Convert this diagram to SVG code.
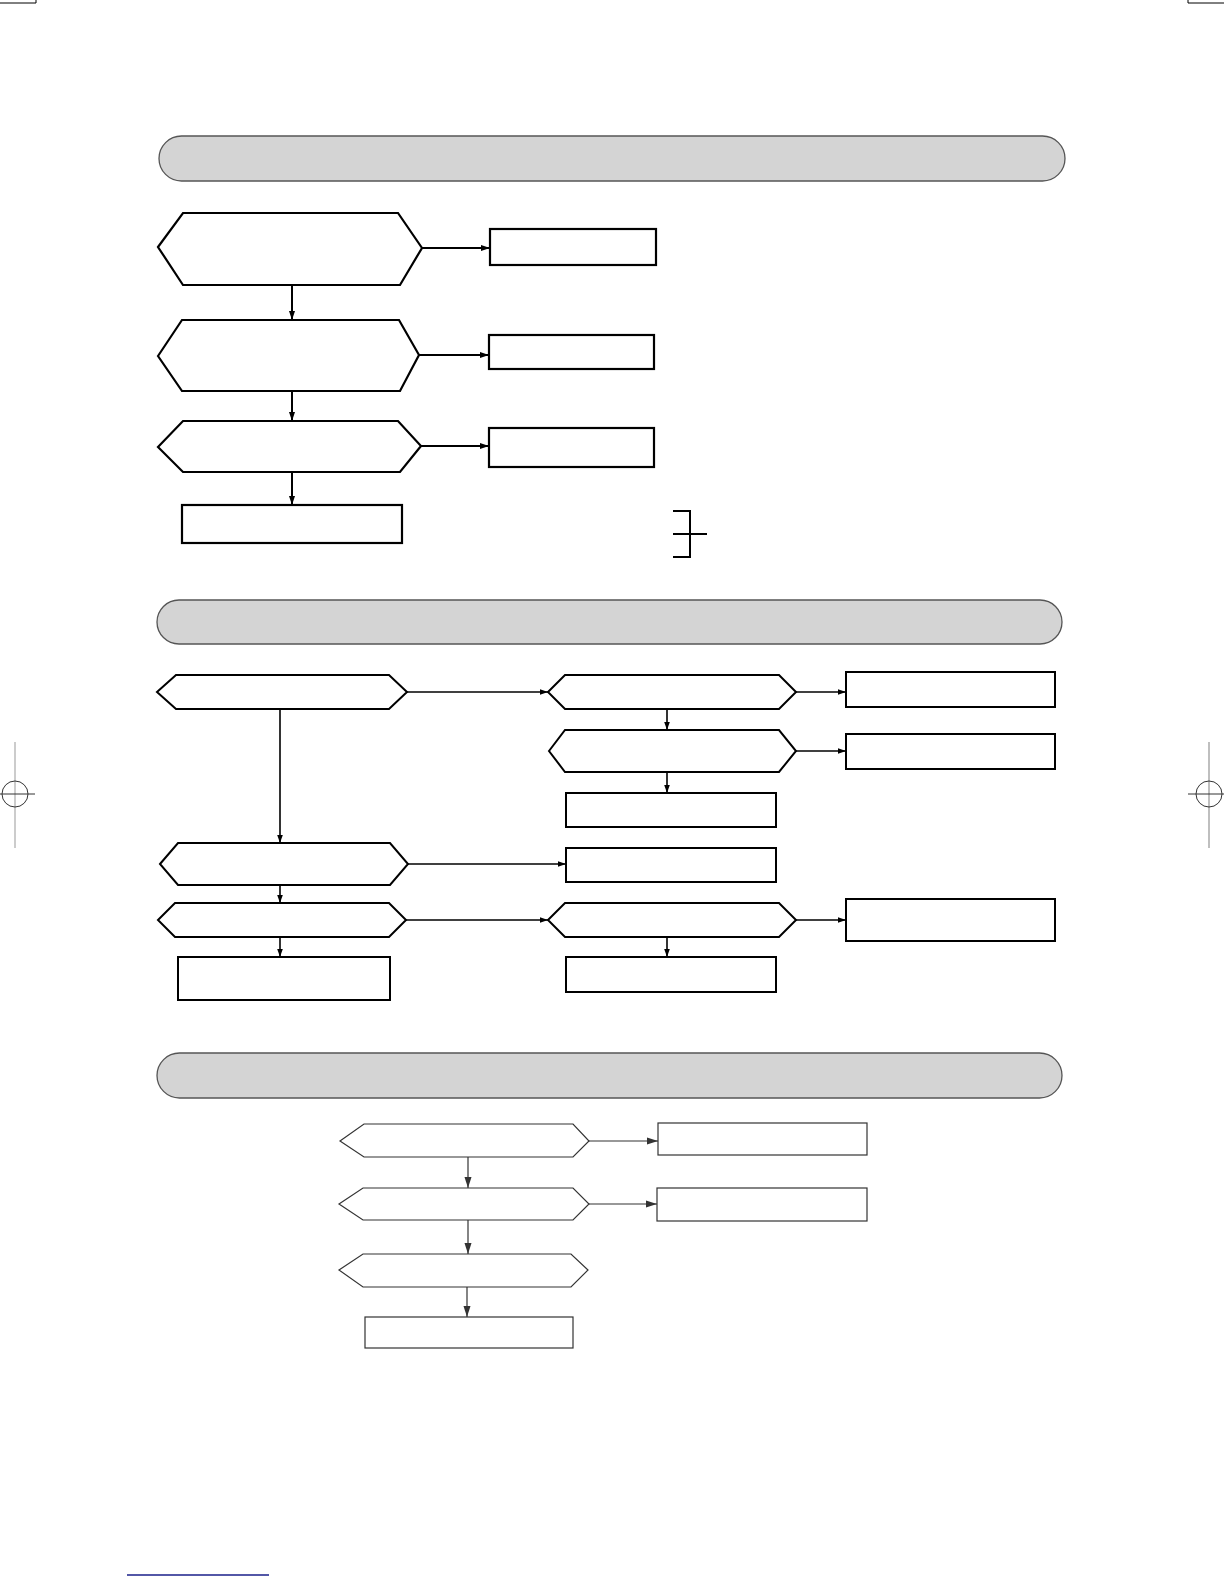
<svg xmlns="http://www.w3.org/2000/svg" width="1224" height="1584" viewBox="0 0 1224 1584">
<style>
.hdr{fill:#d4d4d4;stroke:#555;stroke-width:1.3}
.s1{fill:#fff;stroke:#000;stroke-width:2.2}
.s2{fill:#fff;stroke:#000;stroke-width:2}
.s3{fill:#fff;stroke:#333;stroke-width:1.2}
.c1{fill:none;stroke:#000;stroke-width:2}
.c2{fill:none;stroke:#000;stroke-width:1.6}
.c3{fill:none;stroke:#333;stroke-width:1.2}
.mark{fill:none;stroke:#000;stroke-width:1}
</style>
<defs>
<marker id="a1" markerUnits="userSpaceOnUse" markerWidth="10" markerHeight="8" refX="9" refY="4" orient="auto"><path d="M0,1 L9,4 L0,7 z" fill="#000"/></marker>
<marker id="a2" markerUnits="userSpaceOnUse" markerWidth="9" markerHeight="8" refX="8" refY="4" orient="auto"><path d="M0,1.2 L8,4 L0,6.8 z" fill="#000"/></marker>
<marker id="a3" markerUnits="userSpaceOnUse" markerWidth="12" markerHeight="10" refX="11" refY="5" orient="auto"><path d="M0,1.5 L11,5 L0,8.5 z" fill="#333"/></marker>
</defs>
<rect width="1224" height="1584" fill="#fff"/>

<g id="marks">
<path class="mark" d="M0,3 H36 V0"/>
<path class="mark" d="M1188,0 V3 H1224"/>
<line x1="15" y1="742" x2="15" y2="848" stroke="#ccc" stroke-width="2"/>
<circle cx="15" cy="794" r="13" fill="none" stroke="#333" stroke-width="1"/>
<line x1="0" y1="794" x2="35" y2="794" stroke="#333" stroke-width="1"/>
<line x1="1209" y1="742" x2="1209" y2="848" stroke="#aaa" stroke-width="1.5"/>
<circle cx="1209" cy="794" r="13" fill="none" stroke="#333" stroke-width="1"/>
<line x1="1188" y1="794" x2="1224" y2="794" stroke="#333" stroke-width="1"/>
<line x1="127" y1="1575" x2="269" y2="1575" stroke="#1a1f8a" stroke-width="1.5"/>
</g>

<g id="header1"><rect class="hdr" x="159" y="136" width="906" height="45" rx="22.5"/></g>
<g id="header2"><rect class="hdr" x="157" y="600" width="905" height="44" rx="22"/></g>
<g id="header3"><rect class="hdr" x="157" y="1053" width="905" height="45" rx="22.5"/></g>

<!-- Section 1 -->
<g id="d1"><polygon class="s1" points="158,247 183,213 398,213 422,248 400,285 183,285"/></g>
<g id="r1"><rect class="s1" x="490" y="229" width="166" height="36"/></g>
<g id="d2"><polygon class="s1" points="158,356 182,320 399,320 419,355 400,391 182,391"/></g>
<g id="r2"><rect class="s1" x="489" y="335" width="165" height="34"/></g>
<g id="d3"><polygon class="s1" points="158,447 183,421 398,421 421,446 400,472 183,472"/></g>
<g id="r3"><rect class="s1" x="489" y="428" width="165" height="39"/></g>
<g id="r4"><rect class="s1" x="182" y="505" width="220" height="38"/></g>
<g id="bracket"><path class="c1" stroke-width="1.6" d="M673,511 H690 V557 H673 M673,534 H707"/></g>

<!-- Section 2 -->
<g id="hA"><polygon class="s2" points="157,692 176,675 389,675 407,692 389,709 176,709"/></g>
<g id="hB"><polygon class="s2" points="548,692 565,675 779,675 796,692 779,709 565,709"/></g>
<g id="rB"><rect class="s2" x="846" y="672" width="209" height="35"/></g>
<g id="hC"><polygon class="s2" points="549,751 565,730 779,730 796,751 779,772 565,772"/></g>
<g id="rC"><rect class="s2" x="846" y="734" width="209" height="35"/></g>
<g id="rC2"><rect class="s2" x="566" y="793" width="210" height="34"/></g>
<g id="hD"><polygon class="s2" points="160,864 178,843 390,843 408,864 390,885 178,885"/></g>
<g id="rD"><rect class="s2" x="566" y="848" width="210" height="34"/></g>
<g id="hE"><polygon class="s2" points="158,920 175,903 389,903 406,920 389,937 175,937"/></g>
<g id="rE"><rect class="s2" x="178" y="957" width="212" height="43"/></g>
<g id="hF"><polygon class="s2" points="548,920 565,903 779,903 796,920 779,937 565,937"/></g>
<g id="rF"><rect class="s2" x="846" y="899" width="209" height="42"/></g>
<g id="rF2"><rect class="s2" x="566" y="957" width="210" height="35"/></g>

<!-- Section 3 -->
<g id="hG"><polygon class="s3" points="340,1141 364,1124 573,1124 589,1141 573,1157 364,1157"/></g>
<g id="rG"><rect class="s3" x="658" y="1123" width="209" height="32"/></g>
<g id="hH"><polygon class="s3" points="339,1204 363,1188 573,1188 589,1204 573,1220 363,1220"/></g>
<g id="rH"><rect class="s3" x="657" y="1188" width="210" height="33"/></g>
<g id="hI"><polygon class="s3" points="339,1270 363,1254 571,1254 588,1270 571,1287 363,1287"/></g>
<g id="rI"><rect class="s3" x="365" y="1317" width="208" height="31"/></g>

<g id="connectors">
<line class="c1" x1="422" y1="248" x2="490" y2="248" marker-end="url(#a1)"/>
<line class="c1" x1="419" y1="355" x2="489" y2="355" marker-end="url(#a1)"/>
<line class="c1" x1="421" y1="446" x2="489" y2="446" marker-end="url(#a1)"/>
<line class="c1" x1="292" y1="285" x2="292" y2="320" marker-end="url(#a1)"/>
<line class="c1" x1="292" y1="391" x2="292" y2="421" marker-end="url(#a1)"/>
<line class="c1" x1="292" y1="472" x2="292" y2="505" marker-end="url(#a1)"/>

<line class="c2" stroke-width="2" x1="407" y1="692" x2="548" y2="692" marker-end="url(#a2)"/>
<line class="c2" x1="796" y1="692" x2="846" y2="692" marker-end="url(#a2)"/>
<line class="c2" x1="667" y1="709" x2="667" y2="730" marker-end="url(#a2)"/>
<line class="c2" stroke-width="2.2" x1="796" y1="751" x2="846" y2="751" marker-end="url(#a2)"/>
<line class="c2" x1="667" y1="772" x2="667" y2="793" marker-end="url(#a2)"/>
<line class="c2" x1="280" y1="709" x2="280" y2="843" marker-end="url(#a2)"/>
<line class="c2" stroke-width="2" x1="408" y1="864" x2="566" y2="864" marker-end="url(#a2)"/>
<line class="c2" x1="280" y1="885" x2="280" y2="903" marker-end="url(#a2)"/>
<line class="c2" stroke-width="2" x1="406" y1="920" x2="548" y2="920" marker-end="url(#a2)"/>
<line class="c2" stroke-width="2.2" x1="796" y1="920" x2="846" y2="920" marker-end="url(#a2)"/>
<line class="c2" x1="280" y1="937" x2="280" y2="957" marker-end="url(#a2)"/>
<line class="c2" x1="667" y1="937" x2="667" y2="957" marker-end="url(#a2)"/>

<line class="c3" x1="589" y1="1141" x2="658" y2="1141" marker-end="url(#a3)"/>
<line class="c3" x1="589" y1="1204" x2="657" y2="1204" marker-end="url(#a3)"/>
<line class="c3" x1="468" y1="1157" x2="468" y2="1188" marker-end="url(#a3)"/>
<line class="c3" x1="468" y1="1220" x2="468" y2="1254" marker-end="url(#a3)"/>
<line class="c3" x1="467" y1="1287" x2="467" y2="1317" marker-end="url(#a3)"/>
</g>
</svg>
